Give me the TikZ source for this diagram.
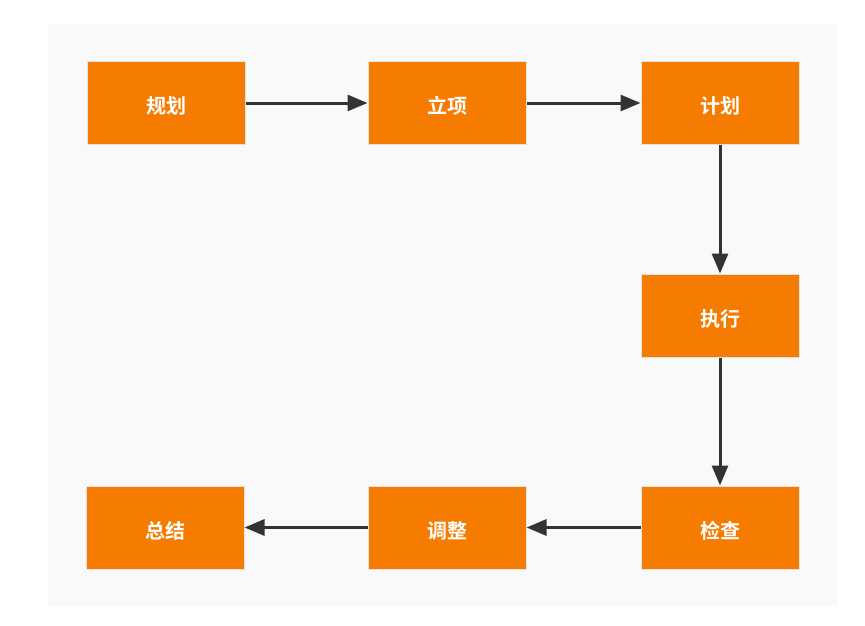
\documentclass[tikz,border=0pt]{standalone}
\usepackage{fontspec}
\newfontfamily\cjk{Noto Sans CJK SC}[BoldFont={Noto Sans CJK SC Bold}]
\usetikzlibrary{arrows.meta}
\definecolor{boxorange}{HTML}{F57C00}
\definecolor{boxedge}{HTML}{E3E3E3}
\definecolor{bgpanel}{HTML}{F9F9F9}
\definecolor{linecol}{HTML}{333333}
\tikzset{
  x=1pt,y=-1pt,
  stepbox/.style={draw=boxedge,line width=1pt,fill=boxorange,minimum width=158pt,minimum height=83pt,inner sep=0pt,text height=21pt,text depth=0pt,text=white,font=\cjk\bfseries\fontsize{20}{24}\selectfont},
  conn/.style={draw=linecol,line width=3pt,-{Triangle[length=20pt,width=16pt]}}
}
\begin{document}
\begin{tikzpicture}
\useasboundingbox (0,0) rectangle (865,626);
\fill[white] (0,0) rectangle (865,626);
\fill[bgpanel] (48,24) rectangle (837,606);
\node[stepbox] (a) at (166,103) {规划};
\node[stepbox] (b) at (447,103) {立项};
\node[stepbox] (c) at (720,103) {计划};
\node[stepbox] (d) at (720,315.5) {执行};
\node[stepbox] (e) at (720,527.5) {检查};
\node[stepbox] (f) at (447,527.5) {调整};
\node[stepbox] (g) at (165,527.5) {总结};
\draw[conn] (a) -- (b);
\draw[conn] (b) -- (c);
\draw[conn] (c) -- (d);
\draw[conn] (d) -- (e);
\draw[conn] (e) -- (f);
\draw[conn] (f) -- (g);
\end{tikzpicture}
\end{document}
